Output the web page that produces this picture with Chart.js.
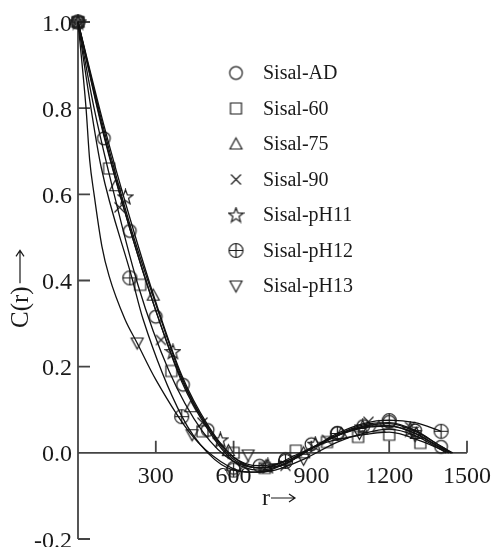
<!DOCTYPE html>
<html>
<head>
<meta charset="utf-8">
<script src="https://cdn.jsdelivr.net/npm/chart.js@4.4.1/dist/chart.umd.min.js"></script>
<style>
  html, body { margin: 0; padding: 0; background: #fff; }
  #wrap { width: 495px; height: 547px; position: relative; }
</style>
</head>
<body>
<div id="wrap"><canvas id="c"></canvas></div>
<script>
// ===== data =====
const seriesNames = ['Sisal-AD', 'Sisal-60', 'Sisal-75', 'Sisal-90', 'Sisal-pH11', 'Sisal-pH12', 'Sisal-pH13'];
const xTicks = [300, 600, 900, 1200, 1500];
const yTicks = [-0.2, 0.0, 0.2, 0.4, 0.6, 0.8, 1.0];

// markers
const adR   = [0, 100, 200, 300, 405, 500, 600, 700, 800, 900, 1000, 1100, 1200, 1300, 1400];
const adC   = [1, 0.73, 0.515, 0.316, 0.158, 0.053, -0.035, -0.03, -0.015, 0.02, 0.046, 0.062, 0.072, 0.052, 0.014];
const s60R  = [0, 120, 240, 360, 480, 600, 720, 840, 960, 1080, 1200, 1320];
const s60C  = [1, 0.66, 0.39, 0.19, 0.05, 0.0, -0.035, 0.005, 0.025, 0.037, 0.042, 0.023];
const s75R  = [0, 145, 290, 435, 580, 725, 870, 1015, 1160, 1305];
const s75C  = [1, 0.62, 0.366, 0.107, 0.005, -0.03, 0.0, 0.045, 0.06, 0.045];
const s90R  = [0, 160, 320, 480, 640, 800, 960, 1120, 1280];
const s90C  = [1, 0.57, 0.262, 0.07, -0.03, -0.03, 0.03, 0.072, 0.06];
const ph11R = [0, 183, 366, 549, 732, 915, 1098, 1281];
const ph11C = [1, 0.594, 0.235, 0.03, -0.03, 0.02, 0.06, 0.055];
const ph12R = [0, 200, 400, 600, 800, 1000, 1200, 1400];
const ph12C = [1, 0.406, 0.084, -0.04, -0.02, 0.045, 0.075, 0.05];
const ph13R = [0, 228, 440, 656, 870, 1085, 1300];
const ph13C = [1, 0.255, 0.042, -0.005, -0.015, 0.045, 0.04];

// fitted curves
const adFitR   = [0, 100, 200, 300, 400, 500, 600, 700, 800, 900, 1000, 1100, 1200, 1300, 1400, 1440];
const adFitC   = [1, 0.735, 0.52, 0.33, 0.17, 0.06, -0.01, -0.035, -0.025, 0.01, 0.04, 0.062, 0.068, 0.05, 0.015, 0];
const s60FitR  = [0, 62, 115, 231, 351, 480, 600, 720, 840, 960, 1080, 1200, 1320, 1430];
const s60FitC  = [1, 0.8, 0.66, 0.39, 0.19, 0.05, -0.02, -0.035, -0.005, 0.025, 0.04, 0.048, 0.028, 0];
const s75FitR  = [0, 100, 200, 300, 400, 500, 600, 700, 800, 900, 1000, 1100, 1200, 1300, 1400, 1440];
const s75FitC  = [1, 0.75, 0.53, 0.345, 0.175, 0.06, -0.015, -0.035, -0.02, 0.01, 0.04, 0.06, 0.063, 0.045, 0.012, 0];
const s90FitR  = [0, 100, 200, 300, 400, 500, 600, 700, 800, 900, 1000, 1100, 1200, 1300, 1400, 1445];
const s90FitC  = [1, 0.74, 0.52, 0.33, 0.165, 0.055, -0.02, -0.04, -0.025, 0.01, 0.042, 0.065, 0.07, 0.052, 0.015, 0];
const ph11FitR = [0, 100, 200, 300, 400, 500, 600, 700, 800, 900, 1000, 1100, 1200, 1300, 1400, 1440];
const ph11FitC = [1, 0.76, 0.545, 0.35, 0.18, 0.065, -0.01, -0.03, -0.02, 0.012, 0.04, 0.058, 0.062, 0.045, 0.01, 0];
const ph12FitR = [0, 50, 89, 208, 251, 401, 500, 600, 700, 800, 900, 1000, 1100, 1200, 1300, 1400];
const ph12FitC = [1, 0.8, 0.664, 0.406, 0.31, 0.084, 0.0, -0.04, -0.045, -0.025, 0.01, 0.045, 0.068, 0.076, 0.07, 0.05];
const ph13FitR = [0, 31, 45, 62, 92, 120, 181, 228, 300, 440, 550, 650, 760, 870, 1000, 1100, 1200, 1300, 1420];
const ph13FitC = [1, 0.8, 0.68, 0.6, 0.48, 0.41, 0.31, 0.255, 0.17, 0.04, -0.02, -0.045, -0.04, -0.015, 0.025, 0.045, 0.055, 0.04, 0];

// ===== marker glyphs (small canvases used as pointStyle) =====
const INK = '#1e1e1e';
function glyph(draw) {
  const cv = document.createElement('canvas');
  cv.width = 17; cv.height = 17;
  const g = cv.getContext('2d');
  g.strokeStyle = INK; g.lineWidth = 1.2;
  g.beginPath(); draw(g); g.stroke();
  return cv;
}
function starPath(g, cx, cy, ro, ri) {
  for (let i = 0; i < 10; i++) {
    const a = -Math.PI / 2 + i * Math.PI / 5;
    const r = i % 2 ? ri : ro;
    const px = cx + r * Math.cos(a), py = cy + r * Math.sin(a);
    i ? g.lineTo(px, py) : g.moveTo(px, py);
  }
  g.closePath();
}
const glyphs = [
  glyph(g => g.arc(8.5, 8.5, 6.3, 0, Math.PI * 2)),
  glyph(g => g.rect(3, 3, 11, 11)),
  glyph(g => { g.moveTo(8.5, 2.5); g.lineTo(14.5, 13.5); g.lineTo(2.5, 13.5); g.closePath(); }),
  glyph(g => { g.moveTo(3.5, 3.5); g.lineTo(13.5, 13.5); g.moveTo(13.5, 3.5); g.lineTo(3.5, 13.5); }),
  glyph(g => starPath(g, 8.5, 9, 7.8, 3.2)),
  glyph(g => { g.arc(8.5, 8.5, 7, 0, Math.PI * 2); g.moveTo(1.5, 8.5); g.lineTo(15.5, 8.5); g.moveTo(8.5, 1.5); g.lineTo(8.5, 15.5); }),
  glyph(g => { g.moveTo(2.5, 3.5); g.lineTo(14.5, 3.5); g.lineTo(8.5, 14.5); g.closePath(); })
];

const marks = [[adR, adC], [s60R, s60C], [s75R, s75C], [s90R, s90C], [ph11R, ph11C], [ph12R, ph12C], [ph13R, ph13C]];
const fits = [[adFitR, adFitC], [s60FitR, s60FitC], [s75FitR, s75FitC], [s90FitR, s90FitC], [ph11FitR, ph11FitC], [ph12FitR, ph12FitC], [ph13FitR, ph13FitC]];
const pts = (rs, cs) => rs.map((r, i) => ({ x: r, y: cs[i] }));

const datasets = [];
fits.forEach(([rs, cs], i) => datasets.push({
  label: seriesNames[i] + ' fit', data: pts(rs, cs), showLine: true, pointRadius: 0,
  borderColor: '#111', borderWidth: 1.3, cubicInterpolationMode: 'monotone', clip: false
}));
marks.forEach(([rs, cs], i) => datasets.push({
  label: seriesNames[i], data: pts(rs, cs), showLine: false,
  pointStyle: glyphs[i], pointRadius: 7, clip: false
}));

// ===== axes, labels and legend drawn on top of the library's scales =====
const SERIF = '"Liberation Serif", "Times New Roman", serif';

// thin arrow pointing along +x of the current transform
function arrow(ctx, x1, x2, y) {
  ctx.beginPath();
  ctx.moveTo(x1, y); ctx.lineTo(x2, y);
  ctx.moveTo(x2 - 6, y - 4); ctx.lineTo(x2, y); ctx.lineTo(x2 - 6, y + 4);
  ctx.stroke();
}

const decor = {
  id: 'decor',
  beforeDatasetsDraw(chart) {
    const { ctx, scales: { x, y } } = chart;
    const x0 = x.getPixelForValue(0), y0 = y.getPixelForValue(0);
    ctx.save();
    ctx.strokeStyle = '#444'; ctx.lineWidth = 1.8;
    ctx.beginPath();
    ctx.moveTo(x0, y.getPixelForValue(1.0)); ctx.lineTo(x0, y.getPixelForValue(-0.2));
    ctx.moveTo(x0, y0); ctx.lineTo(x.getPixelForValue(1500), y0);
    yTicks.forEach(v => { const py = y.getPixelForValue(v); ctx.moveTo(x0, py); ctx.lineTo(x0 + 12, py); });
    xTicks.forEach(v => { const px = x.getPixelForValue(v); ctx.moveTo(px, y0); ctx.lineTo(px, y0 - 12); });
    ctx.stroke();

    ctx.fillStyle = '#1a1a1a';
    ctx.font = '24px ' + SERIF;
    ctx.textBaseline = 'alphabetic';
    ctx.textAlign = 'right';
    yTicks.forEach(v => ctx.fillText(v.toFixed(1), x0 - 6, y.getPixelForValue(v) + 8.5));
    ctx.textAlign = 'center';
    xTicks.forEach(v => ctx.fillText(String(v), x.getPixelForValue(v), y0 + 30));

    // x title: r ->
    ctx.textAlign = 'left';
    ctx.fillText('r', 262, 505);
    ctx.strokeStyle = '#1a1a1a'; ctx.lineWidth = 1.2;
    arrow(ctx, 271, 295, 498);

    // y title: C(r) ->, rotated
    ctx.translate(28, 328);
    ctx.rotate(-Math.PI / 2);
    ctx.font = '25px ' + SERIF;
    ctx.fillText('C(r)', 0, 0);
    const w = ctx.measureText('C(r)').width;
    arrow(ctx, w + 3, w + 36, -8);
    ctx.restore();
  },
  afterDraw(chart) {
    const { ctx } = chart;
    ctx.save();
    ctx.fillStyle = '#1a1a1a';
    ctx.font = '20px ' + SERIF;
    ctx.textAlign = 'left';
    ctx.textBaseline = 'middle';
    seriesNames.forEach((name, i) => {
      const cy = 73 + i * 35.5;
      const gl = glyphs[i];
      ctx.drawImage(gl, 236 - gl.width / 2, cy - gl.height / 2);
      ctx.fillText(name, 263, cy + 1);
    });
    ctx.restore();
  }
};

new Chart(document.getElementById('c'), {
  type: 'scatter',
  data: { datasets },
  options: {
    responsive: true, maintainAspectRatio: false, animation: false,
    layout: { padding: { left: 78, right: 28, top: 22, bottom: 7 } },
    scales: {
      x: { type: 'linear', min: 0, max: 1500, display: false },
      y: { type: 'linear', min: -0.2, max: 1.0, display: false }
    },
    plugins: { legend: { display: false }, tooltip: { enabled: false } }
  },
  plugins: [decor]
});
</script>
</body>
</html>
